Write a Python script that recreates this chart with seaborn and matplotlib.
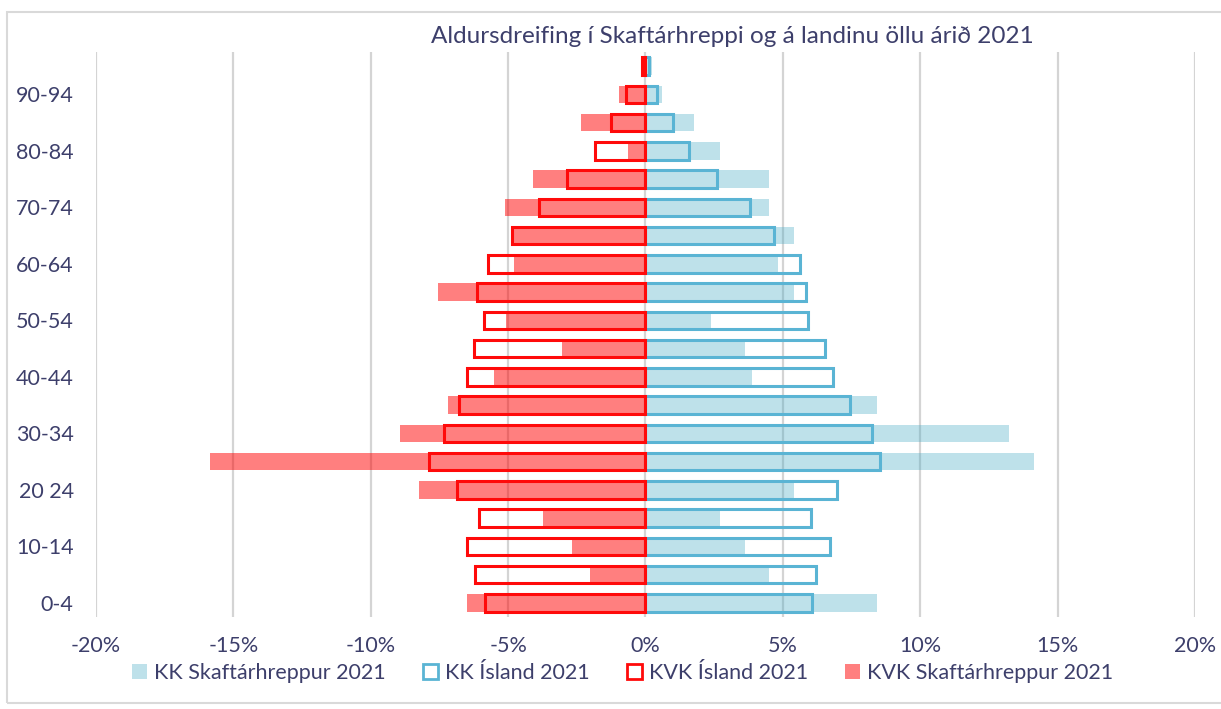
import matplotlib
matplotlib.use("Agg")
import matplotlib.pyplot as plt
from matplotlib.patches import Patch, Rectangle
import seaborn as sns
import pandas as pd

ages = ["0-4", "5-9", "10-14", "15-19", "20-24", "25-29", "30-34", "35-39", "40-44",
        "45-49", "50-54", "55-59", "60-64", "65-69", "70-74", "75-79", "80-84",
        "85-89", "90-94", "95+"]
tick_labels = ["0-4", "", "10-14", "", "20 24", "", "30-34", "", "40-44", "",
               "50-54", "", "60-64", "", "70-74", "", "80-84", "", "90-94", ""]

kk_skaft = [8.43, 4.51, 3.62, 2.73, 5.40, 14.14, 13.23, 8.43, 3.88, 3.62,
            2.40, 5.40, 4.82, 5.40, 4.51, 4.51, 2.73, 1.78, 0.61, 0.25]
kk_island = [6.07, 6.19, 6.71, 6.04, 6.98, 8.53, 8.25, 7.43, 6.83, 6.52,
             5.91, 5.86, 5.64, 4.67, 3.82, 2.61, 1.60, 1.00, 0.42, 0.12]
kvk_island = [-5.84, -6.20, -6.51, -6.05, -6.86, -7.87, -7.32, -6.77, -6.51, -6.23,
              -5.89, -6.13, -5.74, -4.86, -3.86, -2.85, -1.82, -1.25, -0.70, -0.12]
kvk_skaft = [-6.51, -2.01, -2.68, -3.74, -8.23, -15.84, -8.92, -7.17, -5.50, -3.03,
             -5.07, -7.54, -4.77, -4.80, -5.11, -4.08, -0.64, -2.34, -0.95, -0.03]

x_ticks = [-20, -15, -10, -5, 0, 5, 10, 15, 20]

text_col = "#3d3f6b"
blue_fill = (0.294, 0.675, 0.776, 0.36)
blue_edge = "#5ab4d4"
red_fill = (1.0, 0.0, 0.0, 0.5)
red_edge = "#ff0a0a"

sns.set_theme(style="white")
plt.rcParams["font.family"] = ["Lato", "DejaVu Sans"]

fig = plt.figure(figsize=(12.21, 7.09), dpi=100)
ax = fig.add_axes([0.0786, 0.1298, 0.9001, 0.797])

order = ages[::-1]
bar_h = 0.62
sns.barplot(x=kk_skaft, y=ages, order=order, orient="h", color=blue_fill,
            saturation=1, width=bar_h, errorbar=None, linewidth=0, ax=ax)
sns.barplot(x=kvk_skaft, y=ages, order=order, orient="h", color=red_fill,
            saturation=1, width=bar_h, errorbar=None, linewidth=0, ax=ax)
sns.barplot(x=kk_island, y=ages, order=order, orient="h", color=blue_edge,
            saturation=1, width=bar_h, errorbar=None, fill=False, linewidth=2.2, ax=ax)
sns.barplot(x=kvk_island, y=ages, order=order, orient="h", color=red_edge,
            saturation=1, width=bar_h, errorbar=None, fill=False, linewidth=2.2, ax=ax)

ax.set_xlim(-20, 20)
ax.set_ylim(len(ages) - 0.5, -0.5)
ax.set_xticks(x_ticks)
ax.set_xticklabels([f"{t}%" for t in x_ticks], color=text_col, fontsize=15.5)
ax.set_yticks(range(len(ages)))
ax.set_yticklabels(tick_labels[::-1], color=text_col, fontsize=15.5)
ax.tick_params(axis="x", length=0, pad=14)
ax.tick_params(axis="y", length=0, pad=16)
ax.set_xlabel("")
ax.set_ylabel("")
ax.grid(axis="x", color="#d4d4d4", linewidth=1.6)
ax.grid(axis="y", visible=False)
ax.set_axisbelow(True)
for s in ax.spines.values():
    s.set_visible(False)

fig.text(0.600, 0.948, "Aldursdreifing í Skaftárhreppi og á landinu öllu árið 2021",
         ha="center", va="center", fontsize=17.5, color=text_col)

handles = [
    Patch(facecolor=blue_fill, edgecolor="none", label="KK Skaftárhreppur 2021"),
    Patch(facecolor="white", edgecolor=blue_edge, linewidth=2, label="KK Ísland 2021"),
    Patch(facecolor="white", edgecolor=red_edge, linewidth=2, label="KVK Ísland 2021"),
    Patch(facecolor=red_fill, edgecolor="none", label="KVK Skaftárhreppur 2021"),
]
leg = fig.legend(handles=handles, loc="center", bbox_to_anchor=(0.510, 0.051), ncol=4,
                 frameon=False, fontsize=15.5, handlelength=0.7, handleheight=0.7,
                 handletextpad=0.35, columnspacing=1.7)
for t in leg.get_texts():
    t.set_color(text_col)

fig.patches.append(Rectangle((0.006, 0.008), 1.2, 0.975, transform=fig.transFigure,
                             fill=False, edgecolor="#d9d9d9", linewidth=1.5))

fig.savefig("out.png", dpi=100)
